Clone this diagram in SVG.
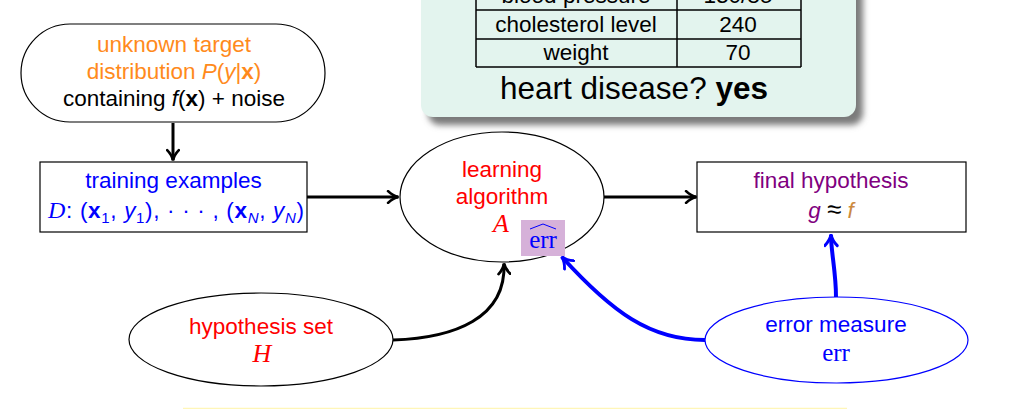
<svg xmlns="http://www.w3.org/2000/svg" width="1035" height="409" viewBox="0 0 1035 409">
<style>
  text { font-family: "Liberation Sans", Arial, sans-serif; font-size: 22.5px; text-anchor: middle; }
  .serif { font-family: "Liberation Serif", "Times New Roman", serif; }
  .it { font-style: italic; }
  .bf { font-weight: bold; }
  .sub { font-size: 15px; }
  .node { fill: #ffffff; stroke: #000000; stroke-width: 1.2; }
  .bline { fill: none; stroke: #000000; stroke-width: 3; }
  .uline { fill: none; stroke: #0000ff; stroke-width: 4; }
  .orange { fill: #ff8a1c; }
  .red { fill: #ff0000; }
  .blue { fill: #0000ff; }
  .purple { fill: #800080; }
  .tbl { stroke: #000000; stroke-width: 1.5; fill: none; }
</style>
<defs>
  <filter id="shadow" x="-10%" y="-10%" width="130%" height="140%">
    <feGaussianBlur stdDeviation="3"/>
  </filter>
  <marker id="arrowK" viewBox="0 0 12 12" refX="10" refY="6" markerWidth="14" markerHeight="14" markerUnits="userSpaceOnUse" orient="auto">
    <path d="M1.5,1 Q5.5,5 10.5,6 Q5.5,7 1.5,11" fill="none" stroke="#000000" stroke-width="2.3" stroke-linecap="round"/>
  </marker>
  <marker id="arrowB" viewBox="0 0 12 12" refX="10" refY="6" markerWidth="15" markerHeight="15" markerUnits="userSpaceOnUse" orient="auto">
    <path d="M1.5,1 Q5.5,5 10.5,6 Q5.5,7 1.5,11" fill="none" stroke="#0000ff" stroke-width="2.3" stroke-linecap="round"/>
  </marker>
</defs>
<rect width="1035" height="409" fill="#ffffff"/>

<!-- data panel -->
<g id="panel">
  <rect x="428" y="-30" width="435" height="155" rx="12" fill="#7a7a7a" filter="url(#shadow)"/>
  <rect x="421" y="-30" width="435" height="147" rx="12" fill="#e3f4ee"/>
  <line class="tbl" x1="476" y1="0" x2="476" y2="67"/>
  <line class="tbl" x1="677" y1="0" x2="677" y2="67"/>
  <line class="tbl" x1="801" y1="0" x2="801" y2="67"/>
  <line class="tbl" x1="476" y1="10" x2="801" y2="10"/>
  <line class="tbl" x1="476" y1="39" x2="801" y2="39"/>
  <line class="tbl" x1="476" y1="67" x2="801" y2="67"/>
  <text x="576" y="3">blood pressure</text>
  <text x="738" y="3">130/85</text>
  <text x="576" y="32">cholesterol level</text>
  <text x="738" y="32">240</text>
  <text x="576" y="60">weight</text>
  <text x="738" y="60">70</text>
  <text x="634" y="99" style="font-size:31.5px">heart disease? <tspan class="bf">yes</tspan></text>
</g>

<!-- connectors -->
<g id="connectors">
  <path class="bline" d="M173,123 L173,160" marker-end="url(#arrowK)"/>
  <path class="bline" d="M307,197 L398,197" marker-end="url(#arrowK)"/>
  <path class="bline" d="M604,197 L696,197" marker-end="url(#arrowK)"/>
  <path class="bline" d="M393,340 C455,338 506,318 504,264" marker-end="url(#arrowK)"/>
  <path class="uline" d="M836,297 C836,272 831,252 831,235" marker-end="url(#arrowB)"/>
  <path class="uline" d="M705,340 C650,340 612,312 562,257" marker-end="url(#arrowB)"/>
</g>

<g id="target">
  <rect class="node" x="21" y="24" width="304" height="98" rx="49" ry="49"/>
  <text x="174" y="52" class="orange">unknown target</text>
  <text x="174" y="79" class="orange">distribution <tspan class="it">P</tspan>(<tspan class="it">y</tspan>|<tspan class="bf">x</tspan>)</text>
  <text x="174" y="106">containing <tspan class="it">f</tspan>(<tspan class="bf">x</tspan>) + noise</text>
</g>

<g id="training">
  <rect class="node" x="40" y="162" width="267" height="70"/>
  <text x="173.5" y="188" class="blue">training examples</text>
  <text x="176" y="218" class="blue" textLength="256" lengthAdjust="spacing"><tspan class="serif it" style="font-size:24px">D</tspan>: (<tspan class="bf">x</tspan><tspan class="sub" dy="5">1</tspan><tspan dy="-5">, </tspan><tspan class="it">y</tspan><tspan class="sub" dy="5">1</tspan><tspan dy="-5">), · · · , (</tspan><tspan class="bf">x</tspan><tspan class="sub it" dy="5">N</tspan><tspan dy="-5">, </tspan><tspan class="it">y</tspan><tspan class="sub it" dy="5">N</tspan><tspan dy="-5">)</tspan></text>
</g>

<g id="learning">
  <ellipse class="node" cx="502" cy="197" rx="102" ry="65"/>
  <text x="502" y="177" class="red">learning</text>
  <text x="502" y="204" class="red">algorithm</text>
  <text x="501" y="232" class="red serif it" style="font-size:26px">A</text>
  <rect x="521" y="220" width="44" height="36" fill="#d6b1d9"/>
  <text x="543" y="248" class="blue serif" style="font-size:25px">err</text>
  <polyline points="530,229 543,224 556,229" fill="none" stroke="#0000ff" stroke-width="1"/>
</g>

<g id="final">
  <rect class="node" x="697" y="162" width="269" height="70"/>
  <text x="831" y="188" class="purple">final hypothesis</text>
  <text x="831" y="218"><tspan class="it purple">g</tspan> <tspan style="font-size:26px">≈</tspan> <tspan class="it" style="fill:#cc8a3e">f</tspan></text>
</g>

<g id="hypothesis">
  <ellipse class="node" cx="261" cy="339.5" rx="132" ry="46.5"/>
  <text x="261" y="334" class="red">hypothesis set</text>
  <text x="262" y="362" class="red serif it" style="font-size:26px">H</text>
</g>

<g id="error">
  <ellipse cx="836.5" cy="340" rx="131.5" ry="43" fill="#ffffff" stroke="#0000ff" stroke-width="1.2"/>
  <text x="836" y="332" class="blue">error measure</text>
  <text x="836" y="361" class="blue serif" style="font-size:25px">err</text>
</g>

<line x1="183" y1="408.5" x2="847" y2="408.5" stroke="#fff6b8" stroke-width="1.5"/>
</svg>
